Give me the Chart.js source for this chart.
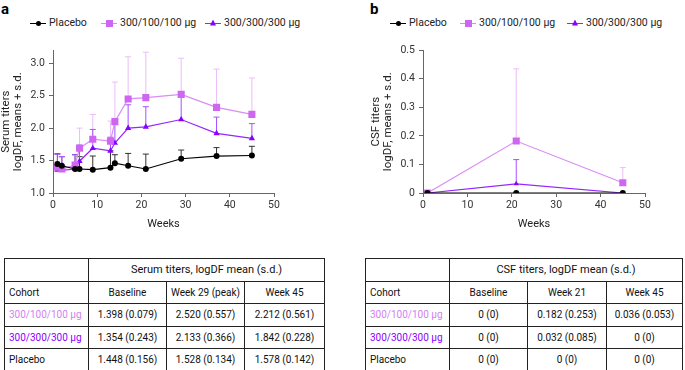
<!DOCTYPE html>
<html>
<head>
<meta charset="utf-8">
<script src="https://cdn.jsdelivr.net/npm/chart.js@4.4.1/dist/chart.umd.min.js"></script>
<style>
  body { margin: 0; background: #fff; font-family: Roboto, "Noto Sans", sans-serif; }
  #page { position: relative; width: 685px; height: 370px; overflow: hidden; }
  .panel { position: absolute; font-weight: bold; font-size: 15px; color: #000; }
  canvas { position: absolute; }
  .leg { position: absolute; top: 16px; height: 14px; font-size: 10.5px; color: #222; line-height: 14px; white-space: nowrap; }
  .seg { position: absolute; top: 6.5px; height: 1.2px; width: 16px; }
  .mk { position: absolute; }
  .leg span.t { position: absolute; top: 0; }
  table { position: absolute; border-collapse: collapse; font-size: 10px; color: #111; table-layout: fixed; }
  td { border: 1px solid #222; height: 21.5px; padding: 0; text-align: center; }
  td.c { text-align: left; padding-left: 4px; }
  td.h { font-size: 11px; }
</style>
</head>
<body>
<div id="page">
  <div class="panel" style="left:1px; top:0px;">a</div>
  <div class="panel" style="left:370px; top:0px;">b</div>
  <div id="legA"></div>
  <div id="legB"></div>
  <canvas id="serum" width="340" height="195" style="left:0; top:40px;"></canvas>
  <canvas id="csf" width="315" height="195" style="left:370px; top:40px;"></canvas>

  <table style="left:4px; top:258px; width:320px;">
    <colgroup><col style="width:84px"><col style="width:78px"><col style="width:78px"><col style="width:80px"></colgroup>
    <tr><td></td><td class="h" colspan="3">Serum titers, logDF mean (s.d.)</td></tr>
    <tr><td class="c">Cohort</td><td>Baseline</td><td>Week 29 (peak)</td><td>Week 45</td></tr>
    <tr><td class="c" style="color:#d27ff2">300/100/100 µg</td><td>1.398 (0.079)</td><td>2.520 (0.557)</td><td>2.212 (0.561)</td></tr>
    <tr><td class="c" style="color:#8c00ff">300/300/300 µg</td><td>1.354 (0.243)</td><td>2.133 (0.366)</td><td>1.842 (0.228)</td></tr>
    <tr><td class="c">Placebo</td><td>1.448 (0.156)</td><td>1.528 (0.134)</td><td>1.578 (0.142)</td></tr>
  </table>

  <table style="left:365px; top:258px; width:317px;">
    <colgroup><col style="width:84px"><col style="width:78px"><col style="width:79px"><col style="width:76px"></colgroup>
    <tr><td></td><td class="h" colspan="3">CSF titers, logDF mean (s.d.)</td></tr>
    <tr><td class="c">Cohort</td><td>Baseline</td><td>Week 21</td><td>Week 45</td></tr>
    <tr><td class="c" style="color:#d27ff2">300/100/100 µg</td><td>0 (0)</td><td>0.182 (0.253)</td><td>0.036 (0.053)</td></tr>
    <tr><td class="c" style="color:#8c00ff">300/300/300 µg</td><td>0 (0)</td><td>0.032 (0.085)</td><td>0 (0)</td></tr>
    <tr><td class="c">Placebo</td><td>0 (0)</td><td>0 (0)</td><td>0 (0)</td></tr>
  </table>
</div>

<script>
// serum titers (panel a)
const serumWeeks = [1, 2, 5, 6, 9, 13, 14, 17, 21, 29, 37, 45];
const serumPlacebo = [1.448, 1.42, 1.37, 1.37, 1.36, 1.39, 1.46, 1.42, 1.37, 1.528, 1.57, 1.578];
const serumPlaceboSd = [0.156, 0.14, 0.22, 0.19, 0.21, 0.26, 0.13, 0.19, 0.23, 0.134, 0.13, 0.142];
const serumLow = [1.398, 1.37, 1.43, 1.69, 1.83, 1.80, 2.10, 2.45, 2.47, 2.520, 2.32, 2.212];
const serumLowSd = [0.079, 0.19, 0.15, 0.31, 0.38, 0.31, 0.61, 0.65, 0.70, 0.557, 0.59, 0.561];
const serumHigh = [1.354, 1.35, 1.37, 1.49, 1.69, 1.65, 1.77, 2.00, 2.02, 2.133, 1.92, 1.842];
const serumHighSd = [0.243, 0.21, 0.22, 0.25, 0.29, 0.21, 0.30, 0.36, 0.31, 0.366, 0.25, 0.228];

// CSF titers (panel b)
const csfWeeks = [1, 21, 45];
const csfPlacebo = [0, 0, 0];
const csfPlaceboSd = [0, 0, 0];
const csfLow = [0, 0.182, 0.036];
const csfLowSd = [0, 0.253, 0.053];
const csfHigh = [0, 0.032, 0];
const csfHighSd = [0, 0.085, 0];

const seriesNames = ["Placebo", "300/100/100 µg", "300/300/300 µg"];
const serumTicks = [1.0, 1.5, 2.0, 2.5, 3.0];
const csfTicks = [0, 0.1, 0.2, 0.3, 0.4, 0.5];

const BLACK = "#000000";
const LIGHT = "#cf66f2";
const LIGHT_LINE = "#d98cf6";
const LIGHT_ERR = "#ecbdfa";
const PURPLE = "#8800ff";
const PURPLE_LINE = "#9526ff";
const PURPLE_ERR = "#a750ff";

const FONT = "Roboto, 'Noto Sans', sans-serif";

const errorBars = {
  id: "errorBars",
  beforeDatasetsDraw(chart) {
    const ctx = chart.ctx;
    const yScale = chart.scales.y;
    chart.data.datasets.forEach((ds, i) => {
      const meta = chart.getDatasetMeta(i);
      ctx.save();
      ctx.strokeStyle = ds.errColor;
      ctx.lineWidth = 1;
      meta.data.forEach((pt, j) => {
        const sd = ds.errs[j];
        if (!sd) return;
        const top = yScale.getPixelForValue(ds.data[j].y + sd);
        ctx.beginPath();
        ctx.moveTo(pt.x, pt.y);
        ctx.lineTo(pt.x, top);
        ctx.moveTo(pt.x - 3, top);
        ctx.lineTo(pt.x + 3, top);
        ctx.stroke();
      });
      ctx.restore();
    });
  }
};

function pts(xs, ys) {
  return xs.map((x, i) => ({ x: x, y: ys[i] }));
}

function makeDatasets(weeks, plac, placSd, low, lowSd, high, highSd, small) {
  return [
    { label: seriesNames[0], data: pts(weeks, plac), errs: placSd, errColor: "#333",
      borderColor: BLACK, backgroundColor: BLACK, pointStyle: "circle", pointRadius: 3,
      borderWidth: 1.2, pointBorderWidth: 0 },
    { label: seriesNames[1], data: pts(weeks, low), errs: lowSd, errColor: LIGHT_ERR,
      borderColor: LIGHT_LINE, backgroundColor: LIGHT, pointBackgroundColor: LIGHT, pointStyle: "rect",
      pointRadius: 5, borderWidth: 1.2, pointBorderWidth: 0 },
    { label: seriesNames[2], data: pts(weeks, high), errs: highSd, errColor: PURPLE_ERR,
      borderColor: PURPLE_LINE, backgroundColor: PURPLE, pointBackgroundColor: PURPLE, pointStyle: "triangle",
      pointRadius: small ? 3 : 3.6, borderWidth: 1.2, pointBorderWidth: 0 }
  ];
}

function axisOpts(min, max, ticks, fmt, title, yWidth) {
  const tickFont = { family: FONT, size: 10.5 };
  return {
    x: {
      type: "linear", min: 0, max: 50,
      ticks: { stepSize: 10, color: "#333", font: tickFont, padding: 2 },
      grid: { display: true, drawOnChartArea: false, drawTicks: true, tickLength: 4, color: "#666" },
      border: { display: true, color: "#666" },
      title: { display: true, text: "Weeks", color: "#222", font: { family: FONT, size: 11 }, padding: { top: 2 } },
      afterFit: (s) => { s.height = 42; }
    },
    y: {
      type: "linear", min: min, max: max,
      afterBuildTicks: (s) => { s.ticks = ticks.map((v) => ({ value: v })); },
      ticks: { color: "#333", font: tickFont, padding: 4, callback: fmt },
      grid: { display: true, drawOnChartArea: false, drawTicks: true, tickLength: 4, color: "#666" },
      border: { display: true, color: "#666" },
      title: { display: true, text: title, color: "#222", font: { family: FONT, size: 11.5, lineHeight: 1.05 }, padding: { top: 0, bottom: 2 } },
      afterFit: (s) => { s.width = yWidth; }
    }
  };
}

Chart.defaults.font.family = FONT;

new Chart(document.getElementById("serum"), {
  type: "line",
  data: { datasets: makeDatasets(serumWeeks, serumPlacebo, serumPlaceboSd, serumLow, serumLowSd, serumHigh, serumHighSd, false) },
  options: {
    responsive: false, animation: false, devicePixelRatio: 1,
    layout: { padding: { top: 7, right: 66, left: 0, bottom: 0 } },
    plugins: { legend: { display: false }, tooltip: { enabled: false } },
    scales: axisOpts(1, 3.2, serumTicks, (v) => Number(v).toFixed(1), ["Serum titers", "logDF, means + s.d."], 53)
  },
  plugins: [errorBars]
});

new Chart(document.getElementById("csf"), {
  type: "line",
  data: { datasets: makeDatasets(csfWeeks, csfPlacebo, csfPlaceboSd, csfLow, csfLowSd, csfHigh, csfHighSd, true) },
  options: {
    responsive: false, animation: false, devicePixelRatio: 1,
    layout: { padding: { top: 7, right: 40, left: 0, bottom: 0 } },
    plugins: { legend: { display: false }, tooltip: { enabled: false } },
    scales: axisOpts(0, 0.5, csfTicks, (v) => (v === 0 ? "0" : Number(v).toFixed(1)), ["CSF titers", "logDF, means + s.d."], 53)
  },
  plugins: [errorBars]
});

// legends drawn as html, line segment + marker like the figure
function marker(kind, color, size) {
  if (kind === "circle") {
    return `<div class="mk" style="left:${8 - size / 2}px; top:${7 - size / 2}px; width:${size}px; height:${size}px; border-radius:50%; background:${color}"></div>`;
  }
  if (kind === "rect") {
    return `<div class="mk" style="left:${8 - size / 2}px; top:${7 - size / 2}px; width:${size}px; height:${size}px; background:${color}"></div>`;
  }
  return `<div class="mk" style="left:${8 - size / 2}px; top:${7 - size / 2 - 0.5}px; width:${size}px; height:${size}px; background:${color}; clip-path:polygon(50% 0,100% 100%,0 100%)"></div>`;
}

function legend(id, lefts) {
  const kinds = ["circle", "rect", "triangle"];
  const lines = [BLACK, LIGHT_LINE, PURPLE_LINE];
  const fills = [BLACK, LIGHT, PURPLE];
  const sizes = [5, 7, 6];
  let html = "";
  seriesNames.forEach((name, i) => {
    html += `<div class="leg" style="left:${lefts[i]}px; width:100px;">
      <div class="seg" style="left:0; background:${lines[i]}"></div>
      ${marker(kinds[i], fills[i], sizes[i])}
      <span class="t" style="left:19px">${name}</span></div>`;
  });
  document.getElementById(id).innerHTML = html;
}
legend("legA", [30, 101, 205]);
legend("legB", [390, 460, 567]);
</script>
</body>
</html>
